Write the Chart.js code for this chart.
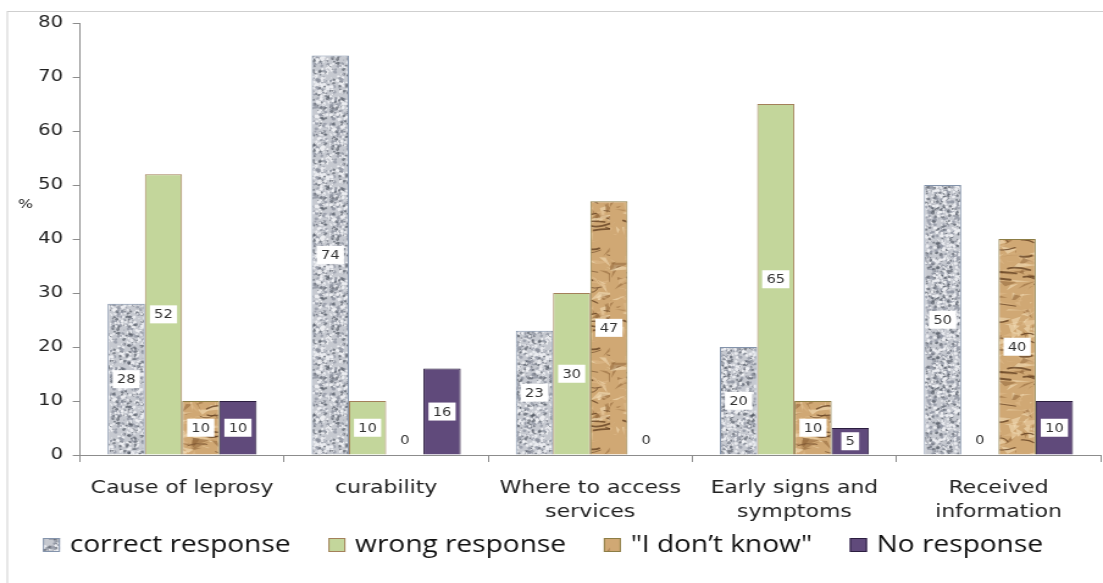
<!DOCTYPE html>
<html>
<head>
<meta charset="utf-8">
<script src="https://cdn.jsdelivr.net/npm/chart.js@4/dist/chart.umd.min.js"></script>
<style>
  html, body { margin: 0; padding: 0; background: #fff; overflow: hidden; }
  #wrap { width: 1103px; height: 583px; overflow: hidden; }
  /* the chart is drawn narrow and stretched sideways, like the exported figure */
  #chart { transform: scaleX(1.2201); transform-origin: 0 0; }
</style>
</head>
<body>
<div id="wrap"><canvas id="chart" width="904" height="583"></canvas></div>
<script>
const categories = ['Cause of leprosy', 'curability', ['Where to access', 'services'], ['Early signs and', 'symptoms'], ['Received', 'information']];
const correctResponse = [28, 74, 23, 20, 50];
const wrongResponse = [52, 10, 30, 65, 0];
const dontKnow = [10, 0, 47, 10, 40];
const noResponse = [10, 16, 0, 5, 10];
const yTicks = [0, 10, 20, 30, 40, 50, 60, 70, 80];

// small seeded generator so the textures look the same on every load
function seeded(seed) {
    let s = seed;
    return () => { s = (s * 16807) % 2147483647; return s / 2147483647; };
}

function granitePattern(ctx) {
    const c = document.createElement('canvas');
    c.width = c.height = 90;
    const g = c.getContext('2d');
    const rnd = seeded(11);
    g.fillStyle = '#c6c9d0';
    g.fillRect(0, 0, 90, 90);
    for (let i = 0; i < 1800; i++) {
        const x = rnd() * 90, y = rnd() * 90, r = 0.4 + rnd() * 1.1;
        const v = rnd();
        g.fillStyle = v < 0.28 ? 'rgba(85,90,102,0.65)' : v < 0.58 ? 'rgba(148,153,165,0.8)' : 'rgba(240,241,244,0.9)';
        g.beginPath();
        g.ellipse(x, y, r, r * 1.2, rnd() * 3, 0, Math.PI * 2);
        g.fill();
    }
    return ctx.createPattern(c, 'repeat');
}

function paperPattern(ctx) {
    const c = document.createElement('canvas');
    c.width = c.height = 100;
    const g = c.getContext('2d');
    const rnd = seeded(29);
    g.fillStyle = '#d0a874';
    g.fillRect(0, 0, 100, 100);
    // facets of the crumpled sheet
    for (let i = 0; i < 240; i++) {
        const x = rnd() * 100, y = rnd() * 100;
        const shade = rnd();
        g.fillStyle = shade < 0.3 ? 'rgba(140,95,52,0.5)' : shade < 0.65 ? 'rgba(222,186,138,0.55)' : 'rgba(244,222,184,0.6)';
        g.beginPath();
        g.moveTo(x, y);
        g.lineTo(x + (rnd() - 0.3) * 24, y + (rnd() - 0.5) * 9);
        g.lineTo(x + (rnd() - 0.5) * 14, y + (rnd() - 0.2) * 12);
        g.closePath();
        g.fill();
    }
    // dark creases
    g.lineCap = 'round';
    for (let i = 0; i < 36; i++) {
        const x = rnd() * 100, y = rnd() * 100;
        g.strokeStyle = 'rgba(95,60,30,0.75)';
        g.lineWidth = 0.7 + rnd() * 1.2;
        g.beginPath();
        g.moveTo(x, y);
        g.quadraticCurveTo(x + 6, y + (rnd() - 0.5) * 8, x + 8 + rnd() * 12, y + (rnd() - 0.5) * 6);
        g.stroke();
    }
    return ctx.createPattern(c, 'repeat');
}

const canvas = document.getElementById('chart');
const ctx = canvas.getContext('2d');

// outer frame and the "%" axis caption
const framePlugin = {
    id: 'frame',
    beforeDraw(chart) {
        const c = chart.ctx;
        c.save();
        c.strokeStyle = '#cfcfcf';
        c.lineWidth = 1;
        c.strokeRect(6, 11.5, 920, 590);
        c.restore();
    },
    afterDraw(chart) {
        const c = chart.ctx;
        const y = chart.scales.y;
        c.save();
        c.fillStyle = '#222';
        c.font = '13px "DejaVu Sans"';
        c.textAlign = 'center';
        c.textBaseline = 'middle';
        c.fillText('%', 21, y.getPixelForValue(46.3));
        c.restore();
    }
};

// value tags: white box in the middle of each bar, plain text for zeros
const valueLabels = {
    id: 'valueLabels',
    afterDatasetsDraw(chart) {
        const c = chart.ctx;
        c.save();
        c.font = '12px "DejaVu Sans"';
        c.textAlign = 'center';
        c.textBaseline = 'middle';
        chart.data.datasets.forEach((ds, i) => {
            chart.getDatasetMeta(i).data.forEach((bar, j) => {
                const v = ds.data[j];
                const txt = String(v);
                if (v === 0) {
                    c.fillStyle = '#333';
                    c.fillText(txt, bar.x, bar.base - 14);
                    return;
                }
                const cy = (bar.y + bar.base) / 2;
                const w = c.measureText(txt).width + 7;
                c.fillStyle = '#fff';
                c.fillRect(bar.x - w / 2, cy - 9, w, 18);
                c.fillStyle = '#333';
                c.fillText(txt, bar.x, cy + 1);
            });
        });
        c.restore();
    }
};

// one-row legend along the bottom
const bottomLegend = {
    id: 'bottomLegend',
    afterDraw(chart) {
        const c = chart.ctx;
        const box = 14, gap = 8, spacing = 31, cy = 545;
        c.save();
        c.font = '23px "Open Sans"';
        c.textBaseline = 'middle';
        const items = chart.data.datasets.map(ds => ({ ds, w: c.measureText(ds.label).width }));
        const total = items.reduce((s, it) => s + box + gap + it.w, 0) + spacing * (items.length - 1);
        let x = (chart.width - total) / 2 - 7;
        items.forEach(({ ds, w }) => {
            c.fillStyle = ds.backgroundColor;
            c.fillRect(x, cy - box / 2, box, box);
            c.strokeStyle = ds.borderColor;
            c.lineWidth = 1;
            c.strokeRect(x + 0.5, cy - box / 2 + 0.5, box - 1, box - 1);
            c.fillStyle = '#111';
            c.fillText(ds.label, x + box + gap, cy);
            x += box + gap + w + spacing;
        });
        c.restore();
    }
};

const chart = new Chart(ctx, {
    type: 'bar',
    data: {
        labels: categories,
        datasets: [{
            label: 'correct response',
            data: correctResponse,
            backgroundColor: granitePattern(ctx),
            borderColor: '#8393ab',
            borderWidth: 1
        }, {
            label: 'wrong response',
            data: wrongResponse,
            backgroundColor: '#c3d69b',
            borderColor: '#a3805a',
            borderWidth: 1
        }, {
            label: '"I don\u2019t know"',
            data: dontKnow,
            backgroundColor: paperPattern(ctx),
            borderColor: '#8c7d45',
            borderWidth: 1
        }, {
            label: 'No response',
            data: noResponse,
            backgroundColor: '#604a7b',
            borderColor: '#2b1d3f',
            borderWidth: 1
        }]
    },
    options: {
        responsive: false,
        animation: false,
        events: [],
        categoryPercentage: 0.73,
        barPercentage: 1,
        layout: {
            padding: { top: 23, right: 2, bottom: 53, left: 0 }
        },
        scales: {
            x: {
                grid: { drawOnChartArea: false, color: '#8c8c8c', tickLength: 7, offset: true },
                border: { color: '#8c8c8c' },
                ticks: {
                    color: '#222',
                    font: { family: 'DejaVu Sans', size: 18, lineHeight: 1.35 },
                    padding: 14,
                    maxRotation: 0,
                    autoSkip: false
                },
                afterFit(scale) { scale.height = 75; }
            },
            y: {
                min: 0,
                max: 80,
                afterBuildTicks(scale) { scale.ticks = yTicks.map(v => ({ value: v })); },
                grid: { drawOnChartArea: false, color: '#8c8c8c', tickLength: 6 },
                border: { color: '#8c8c8c' },
                ticks: {
                    color: '#222',
                    font: { family: 'DejaVu Sans', size: 16 },
                    padding: 8
                },
                afterFit(scale) { scale.width = 65.6; }
            }
        },
        plugins: {
            tooltip: { enabled: false },
            legend: { display: false }
        }
    },
    plugins: [framePlugin, valueLabels, bottomLegend]
});
</script>
</body>
</html>
